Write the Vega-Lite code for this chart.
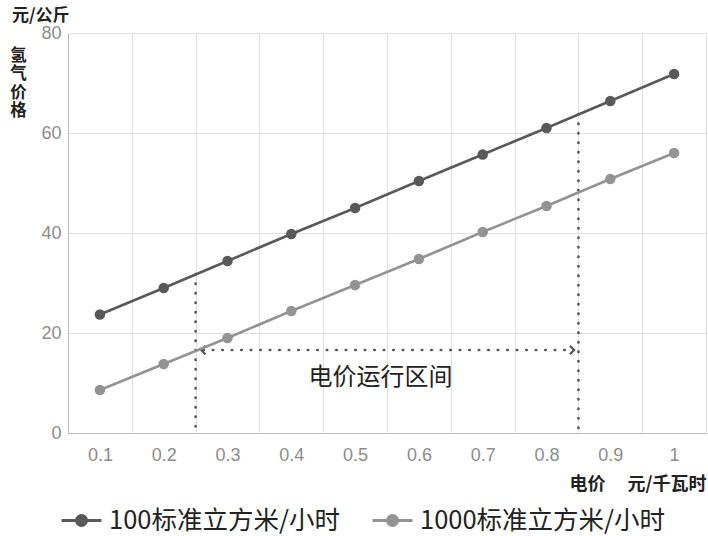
{
  "$schema": "https://vega.github.io/schema/vega-lite/v6.json",
  "width": 638,
  "height": 400,
  "autosize": "none",
  "padding": {"left": 68, "top": 33, "right": 2, "bottom": 103},
  "background": "white",
  "title": {"text": "元/公斤", "anchor": "start", "frame": "group", "dx": -56, "dy": 19, "offset": 1, "baseline": "bottom", "fontSize": 17, "font": "Noto Sans CJK SC", "fontWeight": "bold", "color": "#222"},
  "datasets": {
    "series": [
      {"x": 0.1, "y": 23.7, "s": "100标准立方米/小时"},
      {"x": 0.2, "y": 29.0, "s": "100标准立方米/小时"},
      {"x": 0.3, "y": 34.4, "s": "100标准立方米/小时"},
      {"x": 0.4, "y": 39.8, "s": "100标准立方米/小时"},
      {"x": 0.5, "y": 45.0, "s": "100标准立方米/小时"},
      {"x": 0.6, "y": 50.4, "s": "100标准立方米/小时"},
      {"x": 0.7, "y": 55.7, "s": "100标准立方米/小时"},
      {"x": 0.8, "y": 61.0, "s": "100标准立方米/小时"},
      {"x": 0.9, "y": 66.4, "s": "100标准立方米/小时"},
      {"x": 1.0, "y": 71.8, "s": "100标准立方米/小时"},
      {"x": 0.1, "y": 8.6, "s": "1000标准立方米/小时"},
      {"x": 0.2, "y": 13.8, "s": "1000标准立方米/小时"},
      {"x": 0.3, "y": 19.0, "s": "1000标准立方米/小时"},
      {"x": 0.4, "y": 24.4, "s": "1000标准立方米/小时"},
      {"x": 0.5, "y": 29.6, "s": "1000标准立方米/小时"},
      {"x": 0.6, "y": 34.8, "s": "1000标准立方米/小时"},
      {"x": 0.7, "y": 40.2, "s": "1000标准立方米/小时"},
      {"x": 0.8, "y": 45.4, "s": "1000标准立方米/小时"},
      {"x": 0.9, "y": 50.8, "s": "1000标准立方米/小时"},
      {"x": 1.0, "y": 56.0, "s": "1000标准立方米/小时"}
    ],
    "vlines": [
      {"x": 0.25, "y": 31.8, "y2": 0},
      {"x": 0.85, "y": 63.8, "y2": 0}
    ],
    "hline": [
      {"x": 0.262, "x2": 0.842, "y": 16.6}
    ],
    "arrows": [
      {"x": 0.262, "y": 16.6, "dir": "left"},
      {"x": 0.84, "y": 16.6, "dir": "right"}
    ],
    "label": [
      {"x": 0.54, "y": 11.0, "t": "电价运行区间"}
    ]
  },
  "config": {
    "view": {"stroke": null},
    "axis": {"ticks": false, "domainColor": "#bbbbbb", "gridColor": "#e0e0e0", "labelColor": "#8c8c8c", "labelFontSize": 18, "labelFont": "Liberation Sans"}
  },
  "encoding": {
    "x": {
      "field": "x", "type": "quantitative",
      "scale": {"domain": [0.05, 1.05], "nice": false, "zero": false},
      "axis": {
        "values": [0.05, 0.1, 0.15, 0.2, 0.25, 0.3, 0.35, 0.4, 0.45, 0.5, 0.55, 0.6, 0.65, 0.7, 0.75, 0.8, 0.85, 0.9, 0.95, 1.0, 1.05],
        "labelExpr": "round(datum.value*100) % 10 == 0 ? format(datum.value, '~g') : ''",
        "gridOpacity": {"condition": {"test": "round(datum.value*100) % 10 == 5", "value": 1}, "value": 0},
        "labelPadding": 13,
        "labelFlush": false,
        "labelOverlap": false,
        "title": "电价\u3000\u00a0元/千瓦时",
        "titleAnchor": "end",
        "titleFont": "Noto Sans CJK SC",
        "titleFontSize": 18,
        "titleFontWeight": "bold",
        "titleColor": "#222",
        "titlePadding": 11
      }
    },
    "y": {
      "field": "y", "type": "quantitative",
      "scale": {"domain": [0, 80], "nice": false},
      "axis": {
        "values": [0, 20, 40, 60, 80],
        "labelPadding": 7,
        "title": ["氢", "气", "价", "格"],
        "titleAngle": 0,
        "titleAlign": "center",
        "titleBaseline": "top",
        "titleX": -50,
        "titleY": 14,
        "titleFont": "Noto Sans CJK SC",
        "titleFontSize": 16.5,
        "titleFontWeight": "bold",
        "titleColor": "#222",
        "titleLineHeight": 18.5
      }
    }
  },
  "layer": [
    {
      "data": {"name": "vlines"},
      "mark": {"type": "rule", "color": "#555555", "strokeWidth": 2.6, "strokeDash": [0.5, 9], "strokeCap": "round"},
      "encoding": {"y2": {"field": "y2"}}
    },
    {
      "data": {"name": "hline"},
      "mark": {"type": "rule", "color": "#555555", "strokeWidth": 2.6, "strokeDash": [0.5, 9], "strokeCap": "round"},
      "encoding": {"x2": {"field": "x2"}}
    },
    {
      "data": {"name": "arrows"},
      "mark": {"type": "point", "filled": false, "color": "#555555", "strokeWidth": 2.2, "size": 70, "opacity": 1},
      "encoding": {
        "shape": {"field": "dir", "type": "nominal", "scale": {"domain": ["left", "right"], "range": ["M0.5,-1L-0.5,0L0.5,1", "M-0.5,-1L0.5,0L-0.5,1"]}, "legend": null}
      }
    },
    {
      "data": {"name": "label"},
      "mark": {"type": "text", "font": "Noto Sans CJK SC", "fontSize": 24, "color": "#222", "align": "center", "baseline": "middle"},
      "encoding": {"text": {"field": "t"}}
    },
    {
      "data": {"name": "series"},
      "mark": {"type": "line", "strokeWidth": 2.6},
      "encoding": {
        "color": {
          "field": "s", "type": "nominal",
          "scale": {"domain": ["100标准立方米/小时", "1000标准立方米/小时"], "range": ["#595959", "#939393"]},
          "legend": {
            "orient": "none", "direction": "horizontal", "legendX": -8, "legendY": 466,
            "title": null,
            "labelFont": "Noto Sans CJK SC", "labelFontSize": 25.5, "labelColor": "#222", "labelLimit": 400, "labelOffset": 6,
            "symbolType": "M-1,0H1M-0.25,0A0.25,0.25,0,1,1,0.25,0A0.25,0.25,0,1,1,-0.25,0",
            "symbolSize": 1600, "symbolStrokeWidth": 3,
            "columnPadding": 26,
            "encode": {"symbols": {"update": {"fill": {"scale": "color", "field": "value"}, "stroke": {"scale": "color", "field": "value"}}}}
          }
        }
      }
    },
    {
      "data": {"name": "series"},
      "mark": {"type": "point", "filled": true, "size": 110, "opacity": 1},
      "encoding": {
        "color": {"field": "s", "type": "nominal"}
      }
    }
  ]
}
